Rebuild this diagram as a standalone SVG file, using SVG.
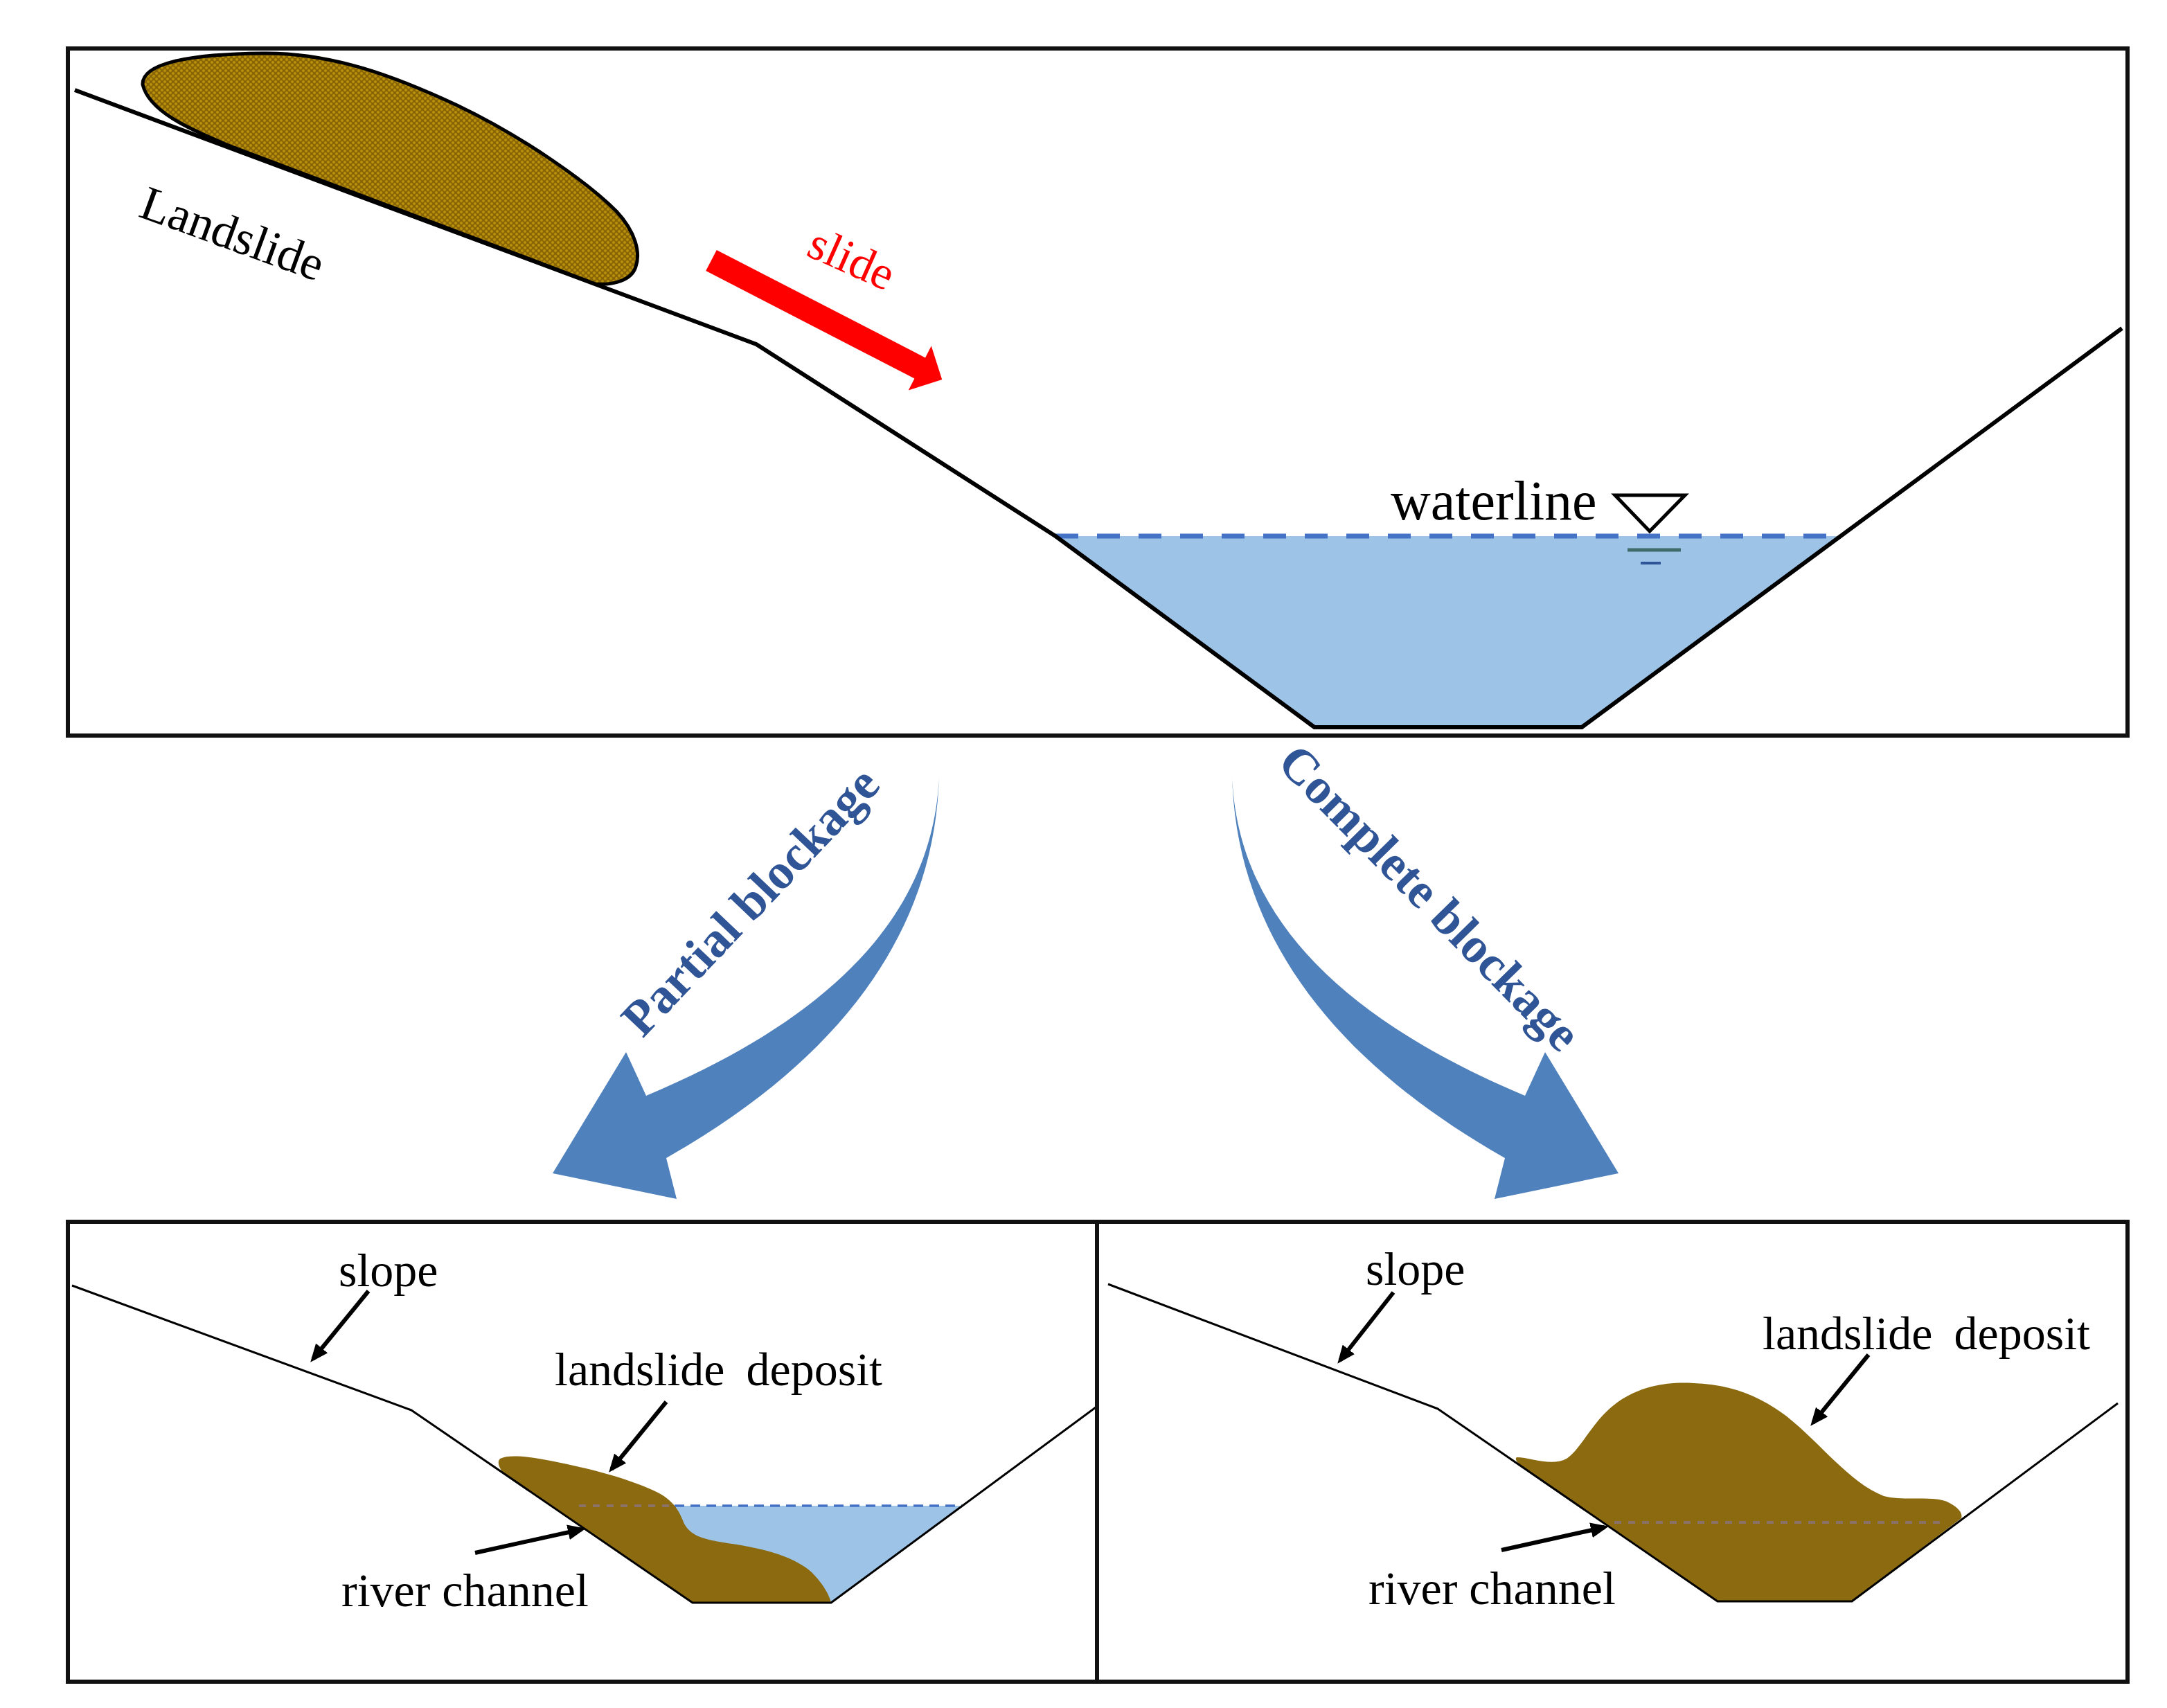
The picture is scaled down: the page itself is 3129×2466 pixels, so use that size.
<svg xmlns="http://www.w3.org/2000/svg" width="3129" height="2466" viewBox="0 0 3129 2466">
<style>
.frame{fill:none;stroke:#111;stroke-width:6}
.ground{fill:none;stroke:#000;stroke-width:6;stroke-linejoin:round}
.ground2{fill:none;stroke:#000;stroke-width:3;stroke-linejoin:round}
.water{fill:#9dc3e6}
.wl{fill:none;stroke:#4472c4;stroke-width:7;stroke-dasharray:33 27}
.wl2{fill:none;stroke:#4472c4;stroke-width:3.5;stroke-dasharray:14 9}
.faint{fill:none;stroke:#8a78b0;stroke-width:4;stroke-dasharray:10 10;opacity:0.55}
.deposit{fill:#8b6a10}
.lbl{font-family:"Liberation Serif","Times New Roman",serif;font-size:68px;fill:#000}
.blk{font-family:"Liberation Serif","Times New Roman",serif;font-size:72px;font-weight:bold;fill:#2f5597}
.ptr{fill:none;stroke:#000;stroke-width:6;marker-end:url(#ah)}
.blue{fill:#4f81bd}
</style>
<defs>
<pattern id="dots" width="8" height="8" patternUnits="userSpaceOnUse">
<rect width="8" height="8" fill="#8a6604"/>
<circle cx="2" cy="2" r="2" fill="#b8900c"/>
<circle cx="6" cy="6" r="2" fill="#b8900c"/>
</pattern>
<marker id="ah" viewBox="0 0 26 22" refX="20" refY="11" markerWidth="26" markerHeight="22" markerUnits="userSpaceOnUse" orient="auto">
<path d="M0,0 L26,11 L0,22 Z" fill="#000"/>
</marker>
<path id="bigArrow" d="M1356,1117 C1352,1330 1230,1520 962,1672 L977,1731 L798,1694 L904,1519 L933,1582 C1200,1470 1350,1320 1356,1117 Z"/>
</defs>
<rect width="3129" height="2466" fill="#fff"/>

<g id="top-panel">
<rect class="frame" x="98" y="70" width="2974" height="992"/>
<polygon class="water" points="1524,774 2658,774 2284,1050 1898,1050"/>
<line class="wl" x1="1524" y1="774" x2="2656" y2="774"/>
<polyline class="ground" points="108,130 1092,497 1524,774 1898,1050 2284,1050 3064,474"/>
</g>

<g id="landslide-mass">
<path d="M206,122 C205,92 270,78 380,77 C480,76 570,110 660,152 C760,200 850,265 890,305 C918,335 925,365 918,385 C912,405 885,412 860,410 L330,210 C270,185 215,160 206,122 Z" fill="url(#dots)" stroke="#000" stroke-width="5"/>
<text class="lbl" transform="translate(198,312) rotate(20)" style="font-size:70px">Landslide</text>
</g>

<g id="slide-arrow">
<polygon points="0,-17 339,-17 339,-36 375,0 339,36 339,17 0,17" fill="#ff0000" transform="translate(1027,376) rotate(27.3)"/>
<text class="lbl" transform="translate(1162,368) rotate(24)" style="fill:#ff0000">slide</text>
</g>

<g id="waterline-symbol">
<text class="lbl" x="2008" y="750" style="font-size:80px">waterline</text>
<polygon points="2332,715 2433,715 2382,767" fill="#fff" stroke="#000" stroke-width="5"/>
<line x1="2350" y1="794" x2="2427" y2="794" stroke="#3f6b6b" stroke-width="5"/>
<line x1="2369" y1="813" x2="2398" y2="813" stroke="#2f5597" stroke-width="4"/>
</g>

<g id="connectors">
<use href="#bigArrow" class="blue"/>
<use href="#bigArrow" class="blue" transform="translate(3135,0) scale(-1,1)"/>
</g>

<g id="partial-label">
<text class="blk" transform="translate(928,1500) rotate(-46.5)">Partial blockage</text>
</g>
<g id="complete-label">
<text class="blk" transform="translate(1842,1104) rotate(45.5)">Complete blockage</text>
</g>

<g id="partial-panel">
<rect class="frame" x="98" y="1764" width="1486" height="664"/>
<polygon class="water" points="940,2174 1391,2174 1200,2314 1000,2314"/>
<line class="wl2" x1="974" y1="2174" x2="1389" y2="2174"/>
<path class="deposit" d="M722,2106 C735,2100 760,2102 800,2110 C850,2120 910,2135 950,2155 C975,2168 982,2185 988,2200 C996,2215 1010,2222 1050,2228 C1110,2236 1150,2250 1172,2270 C1190,2288 1198,2305 1200,2314 L1000,2314 L726,2126 Q716,2112 722,2106 Z"/>
<line class="faint" x1="836" y1="2174" x2="968" y2="2174"/>
<polyline class="ground2" points="104,1856 594,2036 1000,2314 1200,2314 1582,2032"/>
<text class="lbl" x="489" y="1857">slope</text>
<text class="lbl" x="801" y="2000" word-spacing="14">landslide deposit</text>
<text class="lbl" x="493" y="2319">river channel</text>
<line class="ptr" x1="532" y1="1864" x2="452" y2="1962"/>
<line class="ptr" x1="962" y1="2024" x2="883" y2="2121"/>
<line class="ptr" x1="686" y1="2242" x2="840" y2="2208"/>
</g>

<g id="complete-panel">
<rect class="frame" x="1584" y="1764" width="1488" height="664"/>
<path class="deposit" d="M2190,2104 C2210,2104 2240,2118 2262,2106 C2285,2090 2300,2050 2335,2025 C2370,2000 2410,1995 2445,1997 C2500,1999 2540,2015 2580,2045 C2630,2085 2670,2140 2720,2160 C2750,2168 2795,2158 2815,2170 C2830,2178 2834,2186 2832,2192 L2674,2312 L2480,2312 L2200,2119 Q2185,2108 2190,2104 Z"/>
<line class="faint" x1="2331" y1="2198" x2="2805" y2="2198"/>
<polyline class="ground2" points="1600,1854 2076,2034 2480,2312 2674,2312 3058,2026"/>
<text class="lbl" x="1972" y="1855">slope</text>
<text class="lbl" x="2545" y="1948" word-spacing="14">landslide deposit</text>
<text class="lbl" x="1976" y="2316">river channel</text>
<line class="ptr" x1="2012" y1="1866" x2="1935" y2="1964"/>
<line class="ptr" x1="2698" y1="1956" x2="2618" y2="2054"/>
<line class="ptr" x1="2168" y1="2238" x2="2317" y2="2205"/>
</g>
</svg>
